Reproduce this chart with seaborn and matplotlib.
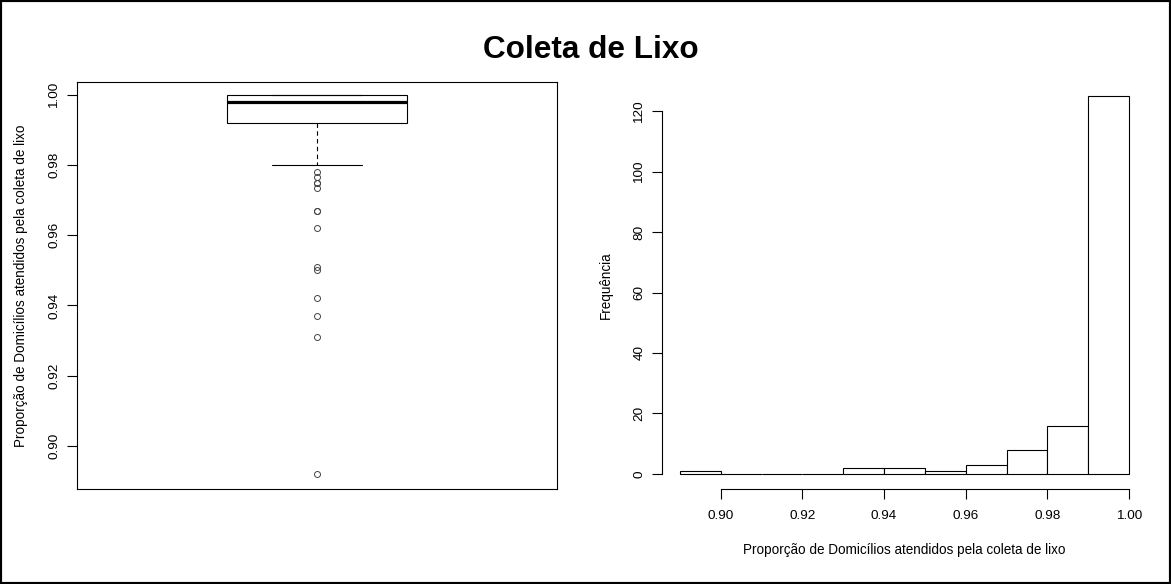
import numpy as np
import pandas as pd
import matplotlib
matplotlib.use("Agg")
import matplotlib.pyplot as plt
import seaborn as sns
from matplotlib.patches import Rectangle

# ---------------- data ----------------
titulo = "Coleta de Lixo"
rotulo_prop = "Proporção de Domicílios atendidos pela coleta de lixo"
rotulo_freq = "Frequência"

# observed proportions (box plot) and how many municipalities share each value
valores = [0.892, 0.931, 0.937, 0.942, 0.950, 0.951, 0.962, 0.967,
           0.9735, 0.975, 0.9767, 0.978, 0.980, 0.982, 0.984, 0.985,
           0.986, 0.987, 0.988, 0.989, 0.990, 0.991, 0.992, 0.993, 0.994,
           0.995, 0.996, 0.997, 0.998, 0.999, 1.000]
repeticoes = [1, 1, 1, 1, 1, 1, 1, 2,
              1, 2, 1, 1, 3, 2, 2, 2,
              2, 2, 2, 2, 2, 3, 5, 4, 4,
              5, 6, 8, 22, 20, 48]

# histogram classes (edges) and frequencies
classes = [0.89, 0.90, 0.91, 0.92, 0.93, 0.94, 0.95, 0.96, 0.97, 0.98, 0.99, 1.00]
frequencias = [1, 0, 0, 0, 2, 2, 1, 3, 8, 16, 125]

ticks_prop_box = [0.90, 0.92, 0.94, 0.96, 0.98, 1.00]
ticks_prop_hist = [0.90, 0.92, 0.94, 0.96, 0.98, 1.00]
ticks_freq = [0, 20, 40, 60, 80, 100, 120]

# ---------------- style ----------------
sns.set_theme(style="white")
plt.rcParams['font.family'] = ['Liberation Sans', 'DejaVu Sans']
plt.rcParams['axes.edgecolor'] = 'black'
plt.rcParams['xtick.color'] = 'black'
plt.rcParams['ytick.color'] = 'black'
plt.rcParams['text.color'] = 'black'
plt.rcParams['axes.labelcolor'] = 'black'

W, H = 1171, 584
fig = plt.figure(figsize=(W / 100, H / 100), dpi=100)
fig.patch.set_facecolor('white')

ax1 = fig.add_axes([77 / W, 1 - 489 / H, 480 / W, 407 / H])
ax2 = fig.add_axes([662 / W, 1 - 489 / H, 485 / W, 408 / H])

lw = 0.8
tick_fs = 9.7
label_fs = 9.75

# ---------------- box plot ----------------
dados = pd.DataFrame({"prop": np.repeat(valores, repeticoes)})
sns.boxplot(data=dados, y="prop", ax=ax1, width=0.377, color="white",
            linecolor="black", linewidth=lw, whis=1.5,
            medianprops=dict(linewidth=2.3, color="black"),
            whiskerprops=dict(linestyle=(0, (4, 3)), color="black"),
            capprops=dict(color="black"),
            boxprops=dict(edgecolor="black", facecolor="white"),
            flierprops=dict(marker="o", markersize=4.3, markerfacecolor="none",
                            markeredgecolor="#444444", markeredgewidth=0.7))
ax1.set_xlim(-0.5, 0.5)
ax1.set_ylim(0.8877, 1.0037)
ax1.set_xticks([])
ax1.set_yticks(ticks_prop_box)
ax1.set_yticklabels([f"{t:.2f}" for t in ticks_prop_box], rotation=90, va="center")
ax1.tick_params(axis="y", direction="out", length=7, width=lw, labelsize=tick_fs,
                left=True, pad=5)
for s in ax1.spines.values():
    s.set_visible(True)
    s.set_linewidth(lw)
    s.set_color("black")
ax1.set_ylabel(rotulo_prop, fontsize=label_fs, labelpad=15)
ax1.set_xlabel("")

# ---------------- histogram ----------------
centros = [(a + b) / 2 for a, b in zip(classes[:-1], classes[1:])]
sns.histplot(x=centros, weights=frequencias, bins=classes, ax=ax2,
             color="white", edgecolor="black", linewidth=lw, alpha=1)
ax2.set_xlim(0.8856, 1.0044)
ax2.set_ylim(-5, 130)
ax2.set_xticks(ticks_prop_hist)
ax2.set_xticklabels([f"{t:.2f}" for t in ticks_prop_hist])
ax2.set_yticks(ticks_freq)
ax2.set_yticklabels([str(t) for t in ticks_freq], rotation=90, va="center")
ax2.tick_params(axis="x", direction="out", length=7, width=lw,
                labelsize=tick_fs, bottom=True, pad=8)
ax2.tick_params(axis="y", direction="out", length=7, width=lw,
                labelsize=tick_fs, left=True, pad=5)
ax2.spines["top"].set_visible(False)
ax2.spines["right"].set_visible(False)
ax2.spines["left"].set_bounds(0, 120)
ax2.spines["bottom"].set_bounds(0.90, 1.00)
for k in ("left", "bottom"):
    ax2.spines[k].set_linewidth(lw)
    ax2.spines[k].set_color("black")
ax2.set_xlabel(rotulo_prop, fontsize=label_fs, labelpad=15.5)
ax2.set_ylabel(rotulo_freq, fontsize=label_fs, labelpad=14.7)

# ---------------- title & frame ----------------
fig.text(591 / W, 1 - 58 / H, titulo, ha="center", va="baseline",
         fontsize=22.7, fontweight="bold", color="black")
fig.add_artist(Rectangle((0, 0), 1, 1, transform=fig.transFigure, fill=False,
                         edgecolor="black", linewidth=3))

fig.savefig("out.png", dpi=100)
